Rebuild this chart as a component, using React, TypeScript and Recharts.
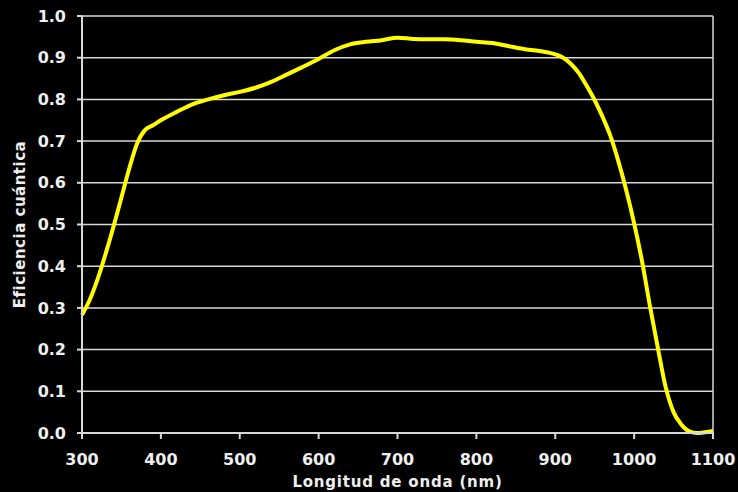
import {
  LineChart,
  Line,
  XAxis,
  YAxis,
  CartesianGrid,
  ReferenceLine,
  Label,
} from "recharts";

// wavelength (nm) and quantum efficiency
const WAVELENGTH = [
  300, 310, 320, 330, 340, 350, 360, 370, 380, 390, 400, 420, 440, 460, 480,
  500, 520, 540, 560, 580, 600, 620, 640, 660, 680, 700, 720, 740, 760, 780,
  800, 820, 840, 860, 880, 900, 910, 920, 930, 940, 950, 960, 970, 980, 990,
  1000, 1010, 1020, 1030, 1040, 1050, 1060, 1070, 1080, 1090, 1100,
];
const EFFICIENCY = [
  0.283, 0.32, 0.37, 0.43, 0.495, 0.565, 0.635, 0.695, 0.727, 0.738, 0.75,
  0.77, 0.788, 0.8, 0.81, 0.818, 0.828, 0.842, 0.86, 0.878, 0.897, 0.918,
  0.932, 0.938, 0.942, 0.948, 0.945, 0.944, 0.944, 0.942, 0.938, 0.935, 0.928,
  0.921, 0.916, 0.908, 0.9, 0.885, 0.863, 0.832, 0.798, 0.758, 0.712, 0.652,
  0.582, 0.503, 0.412, 0.305, 0.205, 0.11, 0.05, 0.02, 0.004, 0, 0.002, 0.005,
];

const X_TICKS = [300, 400, 500, 600, 700, 800, 900, 1000, 1100];
const Y_TICKS = [0, 0.1, 0.2, 0.3, 0.4, 0.5, 0.6, 0.7, 0.8, 0.9, 1.0];

const data = WAVELENGTH.map((nm, i) => ({ nm, qe: EFFICIENCY[i] }));

const FONT = "'DejaVu Sans', Verdana, sans-serif";
const TEXT = "#efefef";
const LINE = "#d8d8d8";

function XTitle(props: any) {
  const vb = props.viewBox || { x: 82, y: 433, width: 631, height: 59 };
  return (
    <text
      x={vb.x + vb.width / 2}
      y={vb.y + vb.height - 5}
      textAnchor="middle"
      fill={TEXT}
      fontFamily={FONT}
      fontWeight="bold"
      fontSize={15}
      letterSpacing={0.8}
    >
      Longitud de onda (nm)
    </text>
  );
}

function YTitle(props: any) {
  const vb = props.viewBox || { x: 0, y: 16, width: 82, height: 417 };
  const cx = 20;
  const cy = vb.y + vb.height / 2;
  return (
    <text
      x={cx}
      y={cy}
      transform={`rotate(-90 ${cx} ${cy})`}
      textAnchor="middle"
      dominantBaseline="central"
      fill={TEXT}
      fontFamily={FONT}
      fontWeight="bold"
      fontSize={15}
      letterSpacing={0.5}
    >
      Eficiencia cuántica
    </text>
  );
}

export default function App() {
  return (
    <div
      style={{
        position: "absolute",
        left: 0,
        top: 0,
        width: 738,
        height: 492,
        background: "#000",
      }}
    >
      <LineChart
        width={738}
        height={492}
        data={data}
        margin={{ top: 16, right: 25, left: 0, bottom: 0 }}
      >
        <CartesianGrid vertical={false} stroke={LINE} strokeWidth={1.5} />
        <XAxis
          dataKey="nm"
          type="number"
          domain={[300, 1100]}
          ticks={X_TICKS}
          height={59}
          stroke={LINE}
          strokeWidth={2}
          tickSize={6}
          tickMargin={15}
          tick={{ fill: TEXT, fontSize: 16, fontWeight: "bold", fontFamily: FONT }}
          interval={0}
        >
          <Label content={<XTitle />} />
        </XAxis>
        <YAxis
          type="number"
          domain={[0, 1]}
          ticks={Y_TICKS}
          width={82}
          stroke={LINE}
          strokeWidth={2}
          tickSize={5}
          tickMargin={11}
          tickFormatter={(v: number) => v.toFixed(1)}
          tick={{ fill: TEXT, fontSize: 16, fontWeight: "bold", fontFamily: FONT }}
          interval={0}
        >
          <Label content={<YTitle />} />
        </YAxis>
        <ReferenceLine x={1100} stroke={LINE} strokeWidth={1.5} />
        <Line
          type="monotone"
          dataKey="qe"
          stroke="#ffff00"
          strokeWidth={4}
          dot={false}
          isAnimationActive={false}
        />
      </LineChart>
    </div>
  );
}
